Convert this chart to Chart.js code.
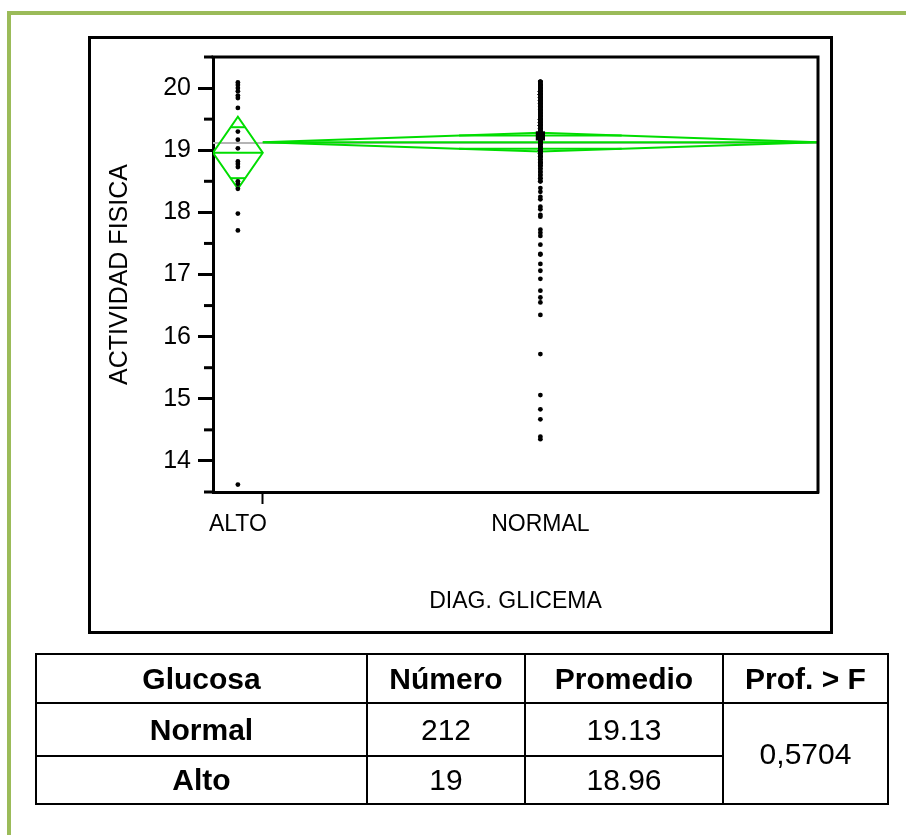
<!DOCTYPE html>
<html>
<head>
<meta charset="utf-8">
<script src="https://cdn.jsdelivr.net/npm/chart.js@4.4.1/dist/chart.umd.min.js"></script>
<style>
  html, body { margin: 0; padding: 0; background: #fff; width: 906px; height: 835px; overflow: hidden;
               font-family: 'Liberation Sans', Arial, sans-serif; }
  #frame { position: absolute; left: 7px; top: 11px; width: 1000px; height: 1000px;
           border-top: 4px solid #9bbb59; border-left: 4px solid #9bbb59; }
  #box { position: absolute; left: 88px; top: 36px; width: 745px; height: 598px;
         border: 3px solid #000; box-sizing: border-box; }
  #chart { position: absolute; left: 0; top: 0; }
  #stats { position: absolute; left: 35px; top: 653px; width: 852px; border-collapse: collapse;
           table-layout: fixed; font-size: 30px; color: #000; }
  #stats th, #stats td { border: 2px solid #000; text-align: center; padding: 0; line-height: 1; }
  #stats th { font-weight: bold; }
  #stats td.g { font-weight: bold; }
</style>
</head>
<body>
<div id="frame"></div>
<div id="box"></div>
<canvas id="chart" width="906" height="835"></canvas>
<table id="stats">
  <colgroup><col style="width:331px"><col style="width:158px"><col style="width:198px"><col style="width:165px"></colgroup>
  <tr style="height:49px"><th>Glucosa</th><th>Número</th><th>Promedio</th><th>Prof. &gt; F</th></tr>
  <tr style="height:53px"><td class="g">Normal</td><td>212</td><td>19.13</td><td rowspan="2">0,5704</td></tr>
  <tr style="height:48px"><td class="g">Alto</td><td>19</td><td>18.96</td></tr>
</table>
<script>
// Groups of DIAG. GLICEMA, in axis order
const groupNames = ['ALTO', 'NORMAL'];
const groupCounts = [19, 212];
const groupMeans = [18.96, 19.13];
const groupCIHalf = [0.58, 0.15];   // half-height of the 95% means diamonds

// ACTIVIDAD FISICA per subject
const altoValues = [
  20.09, 20.05, 20.0, 19.95, 19.88, 19.84, 19.68, 19.30, 19.17, 19.03,
  18.82, 18.78, 18.73, 18.50, 18.46, 18.38, 17.98, 17.71, 13.62
];
const normalValues = [
  20.1, 20.1, 20.1, 20.1,
  20.05, 20.05, 20.05, 20.05, 20.05, 20.05,
  20, 20, 20, 20, 20, 20, 20, 20,
  19.95, 19.95, 19.95, 19.95, 19.95, 19.95, 19.95, 19.95,
  19.9, 19.9, 19.9, 19.9, 19.9, 19.9, 19.9, 19.9, 19.9, 19.9,
  19.85, 19.85, 19.85, 19.85, 19.85, 19.85, 19.85, 19.85, 19.85,
  19.8, 19.8, 19.8, 19.8, 19.8, 19.8, 19.8, 19.8, 19.8,
  19.75, 19.75, 19.75, 19.75, 19.75, 19.75, 19.75, 19.75,
  19.7, 19.7, 19.7, 19.7, 19.7, 19.7, 19.7,
  19.65, 19.65, 19.65, 19.65, 19.65, 19.65, 19.65,
  19.6, 19.6, 19.6, 19.6, 19.6, 19.6, 19.6,
  19.55, 19.55, 19.55, 19.55, 19.55, 19.55, 19.55,
  19.5, 19.5, 19.5, 19.5, 19.5, 19.5, 19.5,
  19.45, 19.45, 19.45, 19.45, 19.45, 19.45,
  19.4, 19.4, 19.4, 19.4, 19.4, 19.4, 19.4, 19.4, 19.4,
  19.35, 19.35, 19.35, 19.35, 19.35, 19.35,
  19.3, 19.3, 19.3, 19.3, 19.3, 19.3,
  19.25, 19.25, 19.25, 19.25, 19.25,
  19.2, 19.2, 19.2, 19.2, 19.2,
  19.15, 19.15, 19.15, 19.15, 19.15,
  19.1, 19.1, 19.1, 19.1, 19.1,
  19.05, 19.05, 19.05, 19.05,
  19, 19, 19, 19, 19, 19, 19,
  18.95, 18.95, 18.95, 18.95,
  18.9, 18.9, 18.9, 18.9, 18.9,
  18.85, 18.85, 18.85,
  18.8, 18.8, 18.8, 18.8, 18.8,
  18.75, 18.75, 18.75,
  18.7, 18.7, 18.65, 18.65, 18.6, 18.6, 18.55, 18.55, 18.5, 18.5,
  18.39, 18.33, 18.25, 18.21, 18.09, 18.05, 17.96, 17.93, 17.72, 17.67,
  17.62, 17.48, 17.33, 17.32, 17.17, 17.06, 16.93, 16.74, 16.63, 16.55,
  16.35, 15.72, 15.06, 14.83, 14.67, 14.39, 14.35
];
const normalMarked = [19.23];

// Axis ticks
const yMajorTicks = [14, 15, 16, 17, 18, 19, 20];
const yMinorTicks = [13.5, 14.5, 15.5, 16.5, 17.5, 18.5, 19.5, 20.5];
const yRange = [13.5, 20.5];

const FONT = "'Liberation Sans', Arial, sans-serif";
const GREEN = '#00dd00';

// Group spans on the x axis are proportional to group sizes
const total = groupCounts.reduce((a, b) => a + b, 0);
const starts = [], ends = [], centers = [];
let acc = 0;
groupCounts.forEach((n, i) => { starts[i] = acc; ends[i] = acc + n; centers[i] = acc + n / 2; acc += n; });
const boundaries = ends.slice(0, -1);
const xTickValues = [...centers, ...boundaries].sort((a, b) => a - b);
const grandMean = groupMeans.reduce((s, m, i) => s + m * groupCounts[i], 0) / total;

const lineDs = (pts, color, order) => ({
  type: 'line', data: pts, borderColor: color, borderWidth: 2, pointRadius: 0,
  fill: false, tension: 0, order: order
});

const datasets = [];
// observations
datasets.push({ type: 'scatter', data: altoValues.map(v => ({ x: centers[0], y: v })),
  backgroundColor: '#000', borderWidth: 0, pointRadius: 2.4, order: 0 });
datasets.push({ type: 'scatter', data: normalValues.map(v => ({ x: centers[1], y: v })),
  backgroundColor: '#000', borderWidth: 0, pointRadius: 2.4, order: 0 });
datasets.push({ type: 'scatter', data: normalMarked.map(v => ({ x: centers[1], y: v })),
  backgroundColor: '#000', borderWidth: 0, pointRadius: 6.5, pointStyle: 'rect', order: 0 });
// grand mean
datasets.push(lineDs([{ x: 0, y: grandMean }, { x: total, y: grandMean }], '#b4b4b4', 3));
// means diamonds with overlap marks (drawn across the diamond's width at that level)
groupMeans.forEach((m, i) => {
  const h = groupCIHalf[i], l = starts[i], r = ends[i], c = centers[i];
  datasets.push(lineDs([{ x: l, y: m }, { x: c, y: m + h }, { x: r, y: m }, { x: c, y: m - h }, { x: l, y: m }], GREEN, 1));
  datasets.push(lineDs([{ x: l, y: m }, { x: r, y: m }], GREEN, 1));
  const o = h / Math.SQRT2, w = (r - l) / 2 * (1 - 1 / Math.SQRT2);
  datasets.push(lineDs([{ x: c - w, y: m + o }, { x: c + w, y: m + o }], GREEN, 1));
  datasets.push(lineDs([{ x: c - w, y: m - o }, { x: c + w, y: m - o }], GREEN, 1));
});

// closes the plot frame and adds half-unit ticks
const plotFrame = {
  id: 'plotFrame',
  afterDraw(chart) {
    const { ctx, chartArea: a, scales: { y } } = chart;
    ctx.save();
    ctx.strokeStyle = '#000';
    ctx.lineWidth = 3;
    ctx.lineCap = 'square';
    ctx.beginPath();
    ctx.moveTo(a.left, a.top); ctx.lineTo(a.right, a.top); ctx.lineTo(a.right, a.bottom);
    ctx.stroke();
    ctx.lineCap = 'butt';
    yMinorTicks.forEach(v => {
      const py = y.getPixelForValue(v);
      ctx.beginPath();
      ctx.moveTo(a.left - 9, py); ctx.lineTo(a.left, py);
      ctx.stroke();
    });
    ctx.restore();
  }
};

new Chart(document.getElementById('chart'), {
  type: 'scatter',
  data: { datasets },
  plugins: [plotFrame],
  options: {
    responsive: false,
    animation: false,
    layout: { padding: { left: 95, top: 57, right: 88, bottom: 203 } },
    plugins: { legend: { display: false }, tooltip: { enabled: false } },
    scales: {
      x: {
        type: 'linear', min: 0, max: total,
        afterBuildTicks: s => { s.ticks = xTickValues.map(v => ({ value: v })); },
        afterFit: s => { s.height = 140; },
        ticks: {
          autoSkip: false, maxRotation: 0, minRotation: 0, padding: 7, color: '#000',
          font: { family: FONT, size: 23 },
          callback: v => { const i = centers.indexOf(v); return i >= 0 ? groupNames[i] : ''; }
        },
        grid: {
          drawOnChartArea: false, drawTicks: true, tickLength: 12, tickWidth: 2,
          tickColor: c => (c.tick && boundaries.includes(c.tick.value)) ? '#000' : 'rgba(0,0,0,0)'
        },
        border: { display: true, color: '#000', width: 3 },
        title: { display: true, text: 'DIAG. GLICEMA', color: '#000',
                 font: { family: FONT, size: 23 }, padding: { top: 0, bottom: 17 } }
      },
      y: {
        type: 'linear', min: yRange[0], max: yRange[1],
        afterBuildTicks: s => { s.ticks = yMajorTicks.map(v => ({ value: v })); },
        afterFit: s => { s.width = 118; },
        ticks: { padding: 7, color: '#000', font: { family: FONT, size: 25 }, callback: v => String(v) },
        grid: { drawOnChartArea: false, drawTicks: true, tickLength: 15, tickWidth: 3, tickColor: '#000' },
        border: { display: true, color: '#000', width: 3 },
        title: { display: true, text: 'ACTIVIDAD FISICA', color: '#000',
                 font: { family: FONT, size: 25 }, padding: { top: 10, bottom: 0 } }
      }
    }
  }
});
</script>
</body>
</html>
